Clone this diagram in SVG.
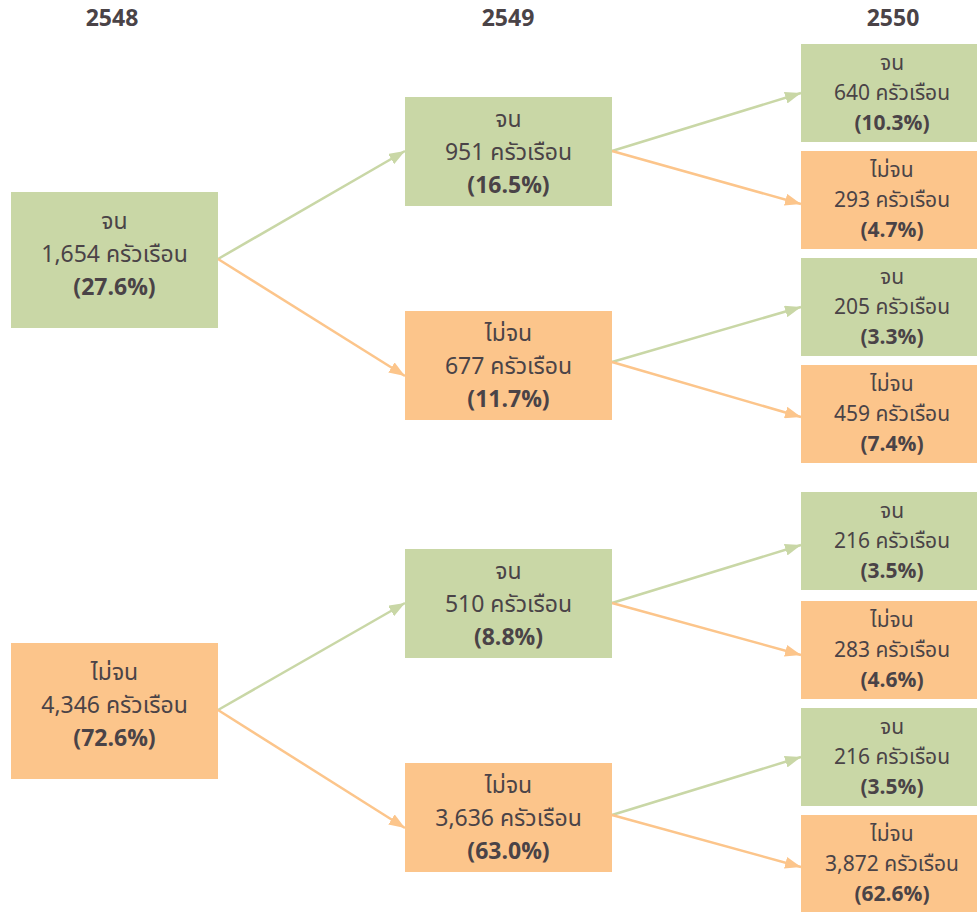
<svg xmlns="http://www.w3.org/2000/svg" width="977" height="912" viewBox="0 0 977 912">
<style>
text{font-family:"Noto Sans Thai","Noto Sans","DejaVu Sans",sans-serif;fill:#4a4347;text-anchor:middle}
.h{font-size:23px;font-weight:bold}
.m{font-size:23px}
.s{font-size:21px}
.b{font-weight:bold}
.g{fill:#c9d7a6}
.o{fill:#fcc58b}
.lg{stroke:#c9d7a6;stroke-width:2.5;fill:none}
.lo{stroke:#fcc58b;stroke-width:2.5;fill:none}
</style>
<defs>
<marker id="ag" viewBox="0 0 16 12" refX="16" refY="6" markerWidth="16" markerHeight="12" markerUnits="userSpaceOnUse" orient="auto"><path d="M0,0L16,6L0,12z" fill="#c9d7a6"/></marker>
<marker id="ao" viewBox="0 0 16 12" refX="16" refY="6" markerWidth="16" markerHeight="12" markerUnits="userSpaceOnUse" orient="auto"><path d="M0,0L16,6L0,12z" fill="#fcc58b"/></marker>
</defs>
<g id="headers">
<text class="h" x="112" y="26">2548</text>
<text class="h" x="508" y="26">2549</text>
<text class="h" x="893" y="26">2550</text>
</g>
<g id="connectors">
<line class="lg" x1="218" y1="259" x2="405" y2="151" marker-end="url(#ag)"/>
<line class="lo" x1="218" y1="259" x2="405" y2="376" marker-end="url(#ao)"/>
<line class="lg" x1="218" y1="710" x2="405" y2="603" marker-end="url(#ag)"/>
<line class="lo" x1="218" y1="710" x2="405" y2="828" marker-end="url(#ao)"/>
<line class="lg" x1="612" y1="151" x2="801" y2="93" marker-end="url(#ag)"/>
<line class="lo" x1="612" y1="151" x2="801" y2="204" marker-end="url(#ao)"/>
<line class="lg" x1="612" y1="362" x2="801" y2="307" marker-end="url(#ag)"/>
<line class="lo" x1="612" y1="362" x2="801" y2="417" marker-end="url(#ao)"/>
<line class="lg" x1="612" y1="603" x2="801" y2="545" marker-end="url(#ag)"/>
<line class="lo" x1="612" y1="603" x2="801" y2="655" marker-end="url(#ao)"/>
<line class="lg" x1="612" y1="815" x2="801" y2="757" marker-end="url(#ag)"/>
<line class="lo" x1="612" y1="815" x2="801" y2="867" marker-end="url(#ao)"/>
</g>
<g id="n2548-poor"><rect class="g" x="11" y="192" width="207" height="136"/>
<text class="m" x="114.5" y="229">จน</text><text class="m" x="114.5" y="262">1,654 ครัวเรือน</text><text class="m b" x="114.5" y="295">(27.6%)</text></g>
<g id="n2548-nonpoor"><rect class="o" x="11" y="643" width="207" height="136"/>
<text class="m" x="114.5" y="680">ไม่จน</text><text class="m" x="114.5" y="713">4,346 ครัวเรือน</text><text class="m b" x="114.5" y="746">(72.6%)</text></g>

<g id="n2549-a"><rect class="g" x="405" y="97" width="207" height="109"/>
<text class="m" x="508.5" y="127">จน</text><text class="m" x="508.5" y="160">951 ครัวเรือน</text><text class="m b" x="508.5" y="193">(16.5%)</text></g>
<g id="n2549-b"><rect class="o" x="405" y="311" width="207" height="109"/>
<text class="m" x="508.5" y="341">ไม่จน</text><text class="m" x="508.5" y="374">677 ครัวเรือน</text><text class="m b" x="508.5" y="407">(11.7%)</text></g>
<g id="n2549-c"><rect class="g" x="405" y="549" width="207" height="109"/>
<text class="m" x="508.5" y="579">จน</text><text class="m" x="508.5" y="612">510 ครัวเรือน</text><text class="m b" x="508.5" y="645">(8.8%)</text></g>
<g id="n2549-d"><rect class="o" x="405" y="763" width="207" height="109"/>
<text class="m" x="508.5" y="793">ไม่จน</text><text class="m" x="508.5" y="826">3,636 ครัวเรือน</text><text class="m b" x="508.5" y="859">(63.0%)</text></g>

<g id="n2550-1"><rect class="g" x="801" y="44" width="176" height="98"/>
<text class="s" x="892" y="70">จน</text><text class="s" x="892" y="100">640 ครัวเรือน</text><text class="s b" x="892" y="130">(10.3%)</text></g>
<g id="n2550-2"><rect class="o" x="801" y="151" width="176" height="98"/>
<text class="s" x="892" y="177">ไม่จน</text><text class="s" x="892" y="207">293 ครัวเรือน</text><text class="s b" x="892" y="237">(4.7%)</text></g>
<g id="n2550-3"><rect class="g" x="801" y="258" width="176" height="98"/>
<text class="s" x="892" y="284">จน</text><text class="s" x="892" y="314">205 ครัวเรือน</text><text class="s b" x="892" y="344">(3.3%)</text></g>
<g id="n2550-4"><rect class="o" x="801" y="365" width="176" height="98"/>
<text class="s" x="892" y="391">ไม่จน</text><text class="s" x="892" y="421">459 ครัวเรือน</text><text class="s b" x="892" y="451">(7.4%)</text></g>
<g id="n2550-5"><rect class="g" x="801" y="492" width="176" height="98"/>
<text class="s" x="892" y="518">จน</text><text class="s" x="892" y="548">216 ครัวเรือน</text><text class="s b" x="892" y="578">(3.5%)</text></g>
<g id="n2550-6"><rect class="o" x="801" y="601" width="176" height="98"/>
<text class="s" x="892" y="627">ไม่จน</text><text class="s" x="892" y="657">283 ครัวเรือน</text><text class="s b" x="892" y="687">(4.6%)</text></g>
<g id="n2550-7"><rect class="g" x="801" y="708" width="176" height="98"/>
<text class="s" x="892" y="734">จน</text><text class="s" x="892" y="764">216 ครัวเรือน</text><text class="s b" x="892" y="794">(3.5%)</text></g>
<g id="n2550-8"><rect class="o" x="801" y="815" width="176" height="97"/>
<text class="s" x="892" y="841">ไม่จน</text><text class="s" x="892" y="871">3,872 ครัวเรือน</text><text class="s b" x="892" y="901">(62.6%)</text></g>
</svg>
